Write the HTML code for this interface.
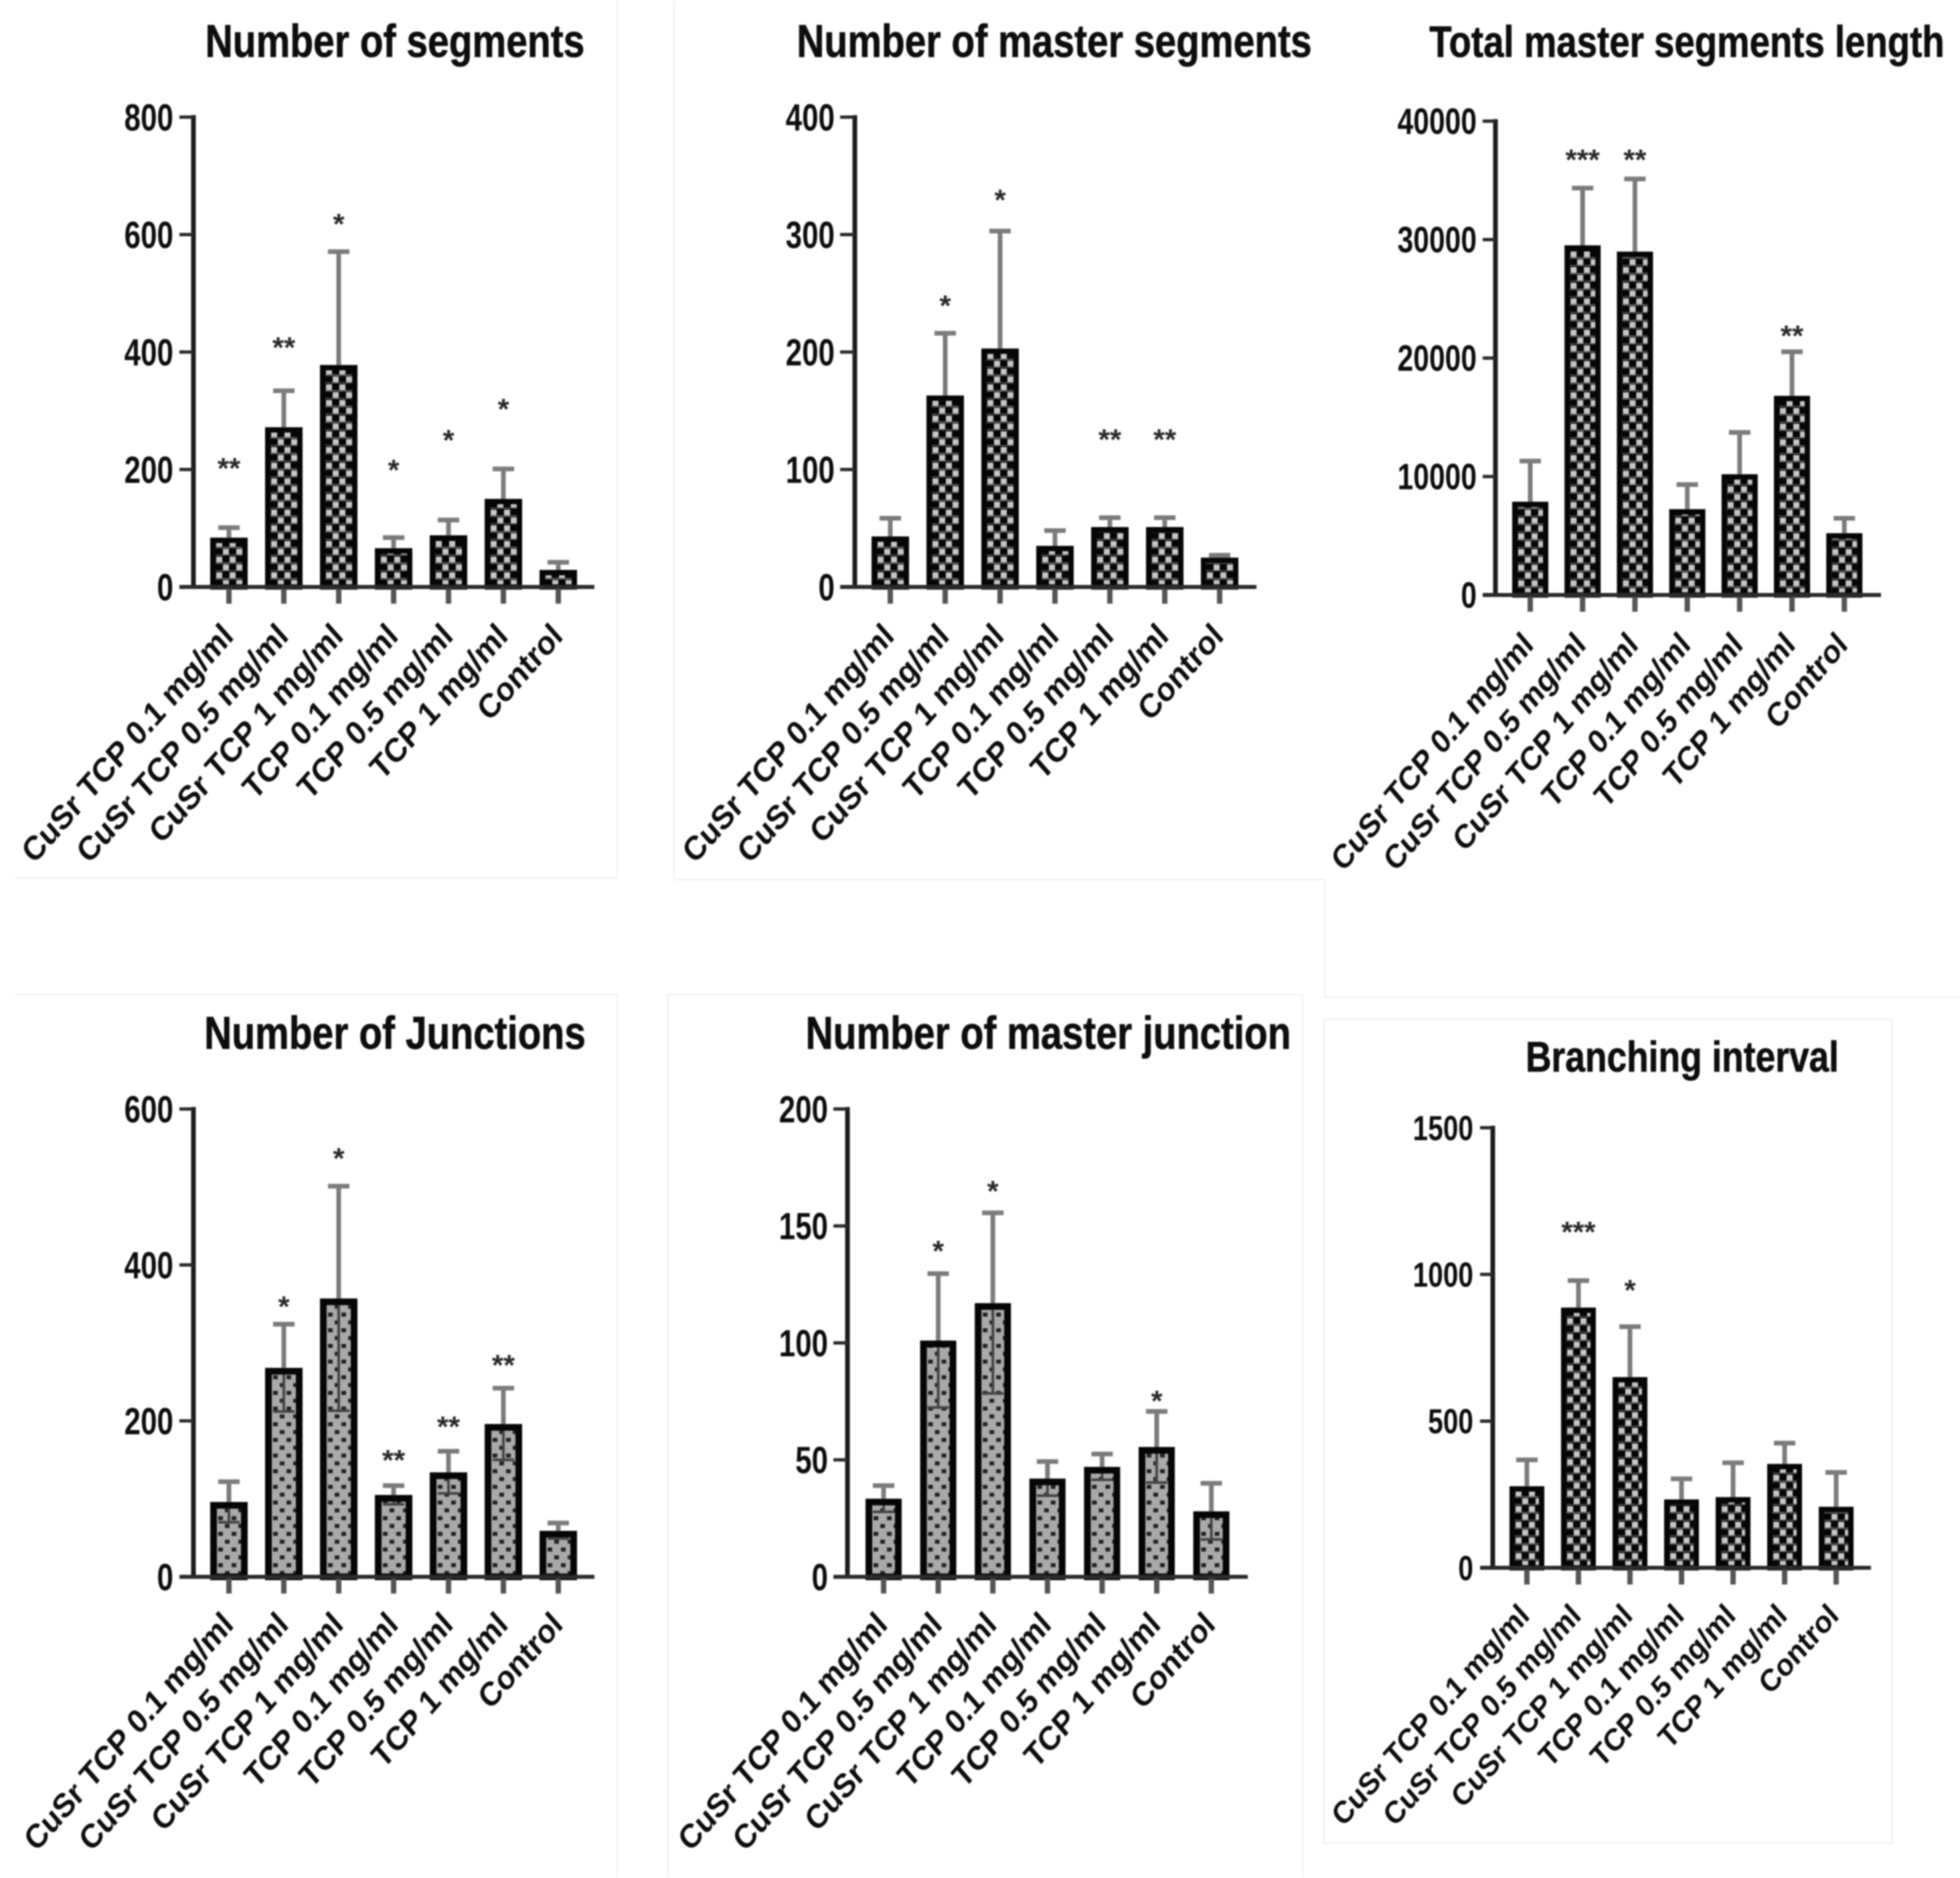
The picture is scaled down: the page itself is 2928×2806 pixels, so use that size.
<!DOCTYPE html>
<html lang="en">
<head>
<meta charset="utf-8">
<title>Angiogenesis parameters bar charts</title>
<style>
html,body{margin:0;padding:0;background:#fff;}
#stage{position:relative;width:2928px;height:2806px;overflow:hidden;background:#fff;}
#charts{position:absolute;left:0;top:0;filter:blur(1.1px);}
text{font-family:"Liberation Sans",sans-serif;font-weight:700;fill:#0e0e0e;}
</style>
</head>
<body>
<div id="stage">
<svg id="charts" width="2928" height="2806" viewBox="0 0 2928 2806" xmlns="http://www.w3.org/2000/svg">
  <defs id="defs"></defs>
  <g stroke="#efefef" stroke-width="2" fill="none">
    <path d="M922 0V1312H22"/>
    <path d="M1007 0V1314H1979V1490H2928"/>
    <path d="M22 1486H922V2806"/>
    <path d="M998 2806V1486H1946V2806"/>
    <path d="M1978 1523H2826V2754H1978Z"/>
  </g>
</svg>
</div>
<script>
const categories = ["CuSr TCP 0.1 mg/ml","CuSr TCP 0.5 mg/ml","CuSr TCP 1 mg/ml","TCP 0.1 mg/ml","TCP 0.5 mg/ml","TCP 1 mg/ml","Control"];

const segmentsTicks = [0,200,400,600,800];
const segmentsMeans = [84,272,378,66,88,150,29];
const segmentsErrTop = [101,334,571,84,114,201,42];
const segmentsStars = ["**","**","*","*","*","*",""];
const segmentsStarAt = [209,415,625,206,257,310,0];

const masterSegmentsTicks = [0,100,200,300,400];
const masterSegmentsMeans = [43,163,203,35,51,51,25];
const masterSegmentsErrTop = [58.5,216,303,48,59,59,27];
const masterSegmentsStars = ["","*","*","","**","**",""];
const masterSegmentsStarAt = [0,243,333,0,129,129,0];

const totalLengthTicks = [0,10000,20000,30000,40000];
const totalLengthMeans = [7874,29517,28986,7246,10193,16812,5217];
const totalLengthErrTop = [11304,34348,35121,9324,13720,20531,6473];
const totalLengthStars = ["","***","**","","","**",""];
const totalLengthStarAt = [0,37101,37101,0,0,22222,0];

const junctionsTicks = [0,200,400,600];
const junctionsMeans = [96,268,357,105,134,196,59];
const junctionsErrTop = [122,324,501,117,161,242,69];
const junctionsStars = ["","*","*","**","**","**",""];
const junctionsStarAt = [0,352,542,155,198,277,0];

const masterJunctionTicks = [0,50,100,150,200];
const masterJunctionMeans = [33.4,101,117,42,47,55.5,28];
const masterJunctionErrTop = [39,129.6,155.6,49.3,52.5,70.7,40];
const masterJunctionStars = ["","*","*","","","*",""];
const masterJunctionStarAt = [0,141,166.6,0,0,77,0];

const branchingTicks = [0,500,1000,1500];
const branchingMeans = [278,887,650,233,241,354,208];
const branchingErrTop = [368,979,822,303,358,425,325];
const branchingStars = ["","***","*","","","",""];
const branchingStarAt = [0,1159,961,0,0,0,0];

const SVGNS = "http://www.w3.org/2000/svg";
const svg = document.getElementById("charts");
const defs = document.getElementById("defs");

function make(tag, attrs, parent){
  const el = document.createElementNS(SVGNS, tag);
  for (const k in attrs) el.setAttribute(k, attrs[k]);
  parent.appendChild(el);
  return el;
}

function addPattern(id, kind, originX, originY){
  const p = make("pattern",{id:id,patternUnits:"userSpaceOnUse",x:originX,y:originY,width:20,height:23.4},defs);
  if (kind === "checker"){
    make("rect",{x:0,y:0,width:20,height:23.4,fill:"#060606"},p);
    make("rect",{x:0,y:10,width:20,height:2.4,fill:"#5c5c5c"},p);
    make("rect",{x:0,y:21.8,width:20,height:1.6,fill:"#5c5c5c"},p);
    make("rect",{x:0,y:1.5,width:9,height:8.5,fill:"#c6c6c6"},p);
    make("rect",{x:10,y:13.2,width:9,height:8.5,fill:"#c6c6c6"},p);
  } else {
    make("rect",{x:0,y:0,width:20,height:23.4,fill:"#a9a9a9"},p);
    make("rect",{x:3,y:3,width:7,height:6,fill:"#222"},p);
    make("rect",{x:13,y:14.7,width:7,height:6,fill:"#222"},p);
  }
}

function drawPanel(cfg){
  const g = make("g",{},svg);
  
  

  const yMax = cfg.ticks[cfg.ticks.length-1];
  const yScale = v => cfg.y0 - (v / yMax) * (cfg.y0 - cfg.yTop);
  const xScale = i => cfg.x0 + i * cfg.step;

  const title = make("text",{"text-anchor":"middle","font-size":cfg.titleSize,stroke:"#0e0e0e","stroke-width":0.7,
    transform:"translate("+cfg.titleX+" "+cfg.titleY+") scale(1 1.2)"},g);
  title.textContent = cfg.title;
  
  

  cfg.means.forEach((m,i)=>{
    const cx = xScale(i);
    const left = cx - cfg.barW/2;
    const top = yScale(m);
    const pid = cfg.key + "-fill-" + i;
    const b = cfg.border;
    addPattern(pid, cfg.fill, left + 9, cfg.y0);

    const bar = make("rect",{x:left+b/2,y:top+b/2,width:cfg.barW-b,height:cfg.y0-top-b/2,fill:"url(#"+pid+")",stroke:"#060606","stroke-width":b},g);
    
    

    const hi = yScale(cfg.errTop[i]);
    const up = make("path",{d:"M"+cx+" "+top+"V"+hi+"M"+(cx-16)+" "+hi+"H"+(cx+16),stroke:"#7c7c7c",fill:"none","stroke-width":7},g);
    
    

    if (cfg.lower){
      const lo = yScale(2*m - cfg.errTop[i]);
      const down = make("path",{d:"M"+cx+" "+(top+b)+"V"+lo+"M"+(cx-16)+" "+lo+"H"+(cx+16),stroke:"#444",fill:"none","stroke-width":4},g);
      
      
    }

    if (cfg.stars[i]){
      const star = make("text",{x:cx,y:yScale(cfg.starAt[i])+21,"text-anchor":"middle","font-size":44,style:"fill:#2a2a2a"},g);
      star.textContent = cfg.stars[i];
      
      
    }

    const tick = make("line",{x1:cx,x2:cx,y1:cfg.y0,y2:cfg.y0+25,stroke:"#555","stroke-width":8},g);
    
    

    const lx = cx + cfg.labelDx, ly = cfg.y0 + cfg.labelDy;
    const label = make("text",{"text-anchor":"end","font-size":cfg.labelSize,
      transform:"translate("+lx+" "+ly+") scale(1 "+cfg.labelScaleY+") rotate(-45)"},g);
    label.textContent = categories[i];
    
    
  });

  const yAxis = make("line",{x1:cfg.axisX,x2:cfg.axisX,y1:cfg.yTop-3,y2:cfg.y0+3,stroke:"#1c1c1c","stroke-width":7},g);
  
  

  const xAxis = make("line",{x1:cfg.tickLeft,x2:cfg.xEnd,y1:cfg.y0,y2:cfg.y0,stroke:"#2c2c2c","stroke-width":6},g);
  
  

  cfg.ticks.forEach(t=>{
    const yy = yScale(t);
    const tk = make("line",{x1:cfg.tickLeft,x2:cfg.axisX,y1:yy,y2:yy,stroke:"#2c2c2c","stroke-width":5},g);
    
    
    const lb = make("text",{"text-anchor":"end","font-size":cfg.tickSize,
      transform:"translate("+cfg.tickText+" "+(yy+cfg.tickSize*0.45)+") scale(1 1.28)"},g);
    lb.textContent = t;
    
    
  });
}

drawPanel({key:"segments",title:"Number of segments",titleX:590,titleY:85,titleSize:57,
  ticks:segmentsTicks,means:segmentsMeans,errTop:segmentsErrTop,stars:segmentsStars,starAt:segmentsStarAt,
  fill:"checker",border:8,lower:false,axisX:289,tickLeft:268,tickText:259,xEnd:888,yTop:175,y0:877,x0:342,step:82,barW:56,
  tickSize:44,labelSize:44.5,labelScaleY:1.13,labelDx:9,labelDy:76});

drawPanel({key:"master-segments",title:"Number of master segments",titleX:1575,titleY:85,titleSize:57,
  ticks:masterSegmentsTicks,means:masterSegmentsMeans,errTop:masterSegmentsErrTop,stars:masterSegmentsStars,starAt:masterSegmentsStarAt,
  fill:"checker",border:8,lower:false,axisX:1277,tickLeft:1255,tickText:1247,xEnd:1877,yTop:175,y0:877,x0:1330,step:82,barW:56,
  tickSize:44,labelSize:44.5,labelScaleY:1.13,labelDx:8,labelDy:76});

drawPanel({key:"total-master-length",title:"Total master segments length",titleX:2520,titleY:85,titleSize:54.6,
  ticks:totalLengthTicks,means:totalLengthMeans,errTop:totalLengthErrTop,stars:totalLengthStars,starAt:totalLengthStarAt,
  fill:"checker",border:8,lower:false,axisX:2234,tickLeft:2215,tickText:2206,xEnd:2810,yTop:181,y0:889,x0:2286,step:78.2,barW:54,
  tickSize:42.6,labelSize:42.5,labelScaleY:1.18,labelDx:7,labelDy:77});

drawPanel({key:"junctions",title:"Number of Junctions",titleX:590,titleY:1567,titleSize:57,
  ticks:junctionsTicks,means:junctionsMeans,errTop:junctionsErrTop,stars:junctionsStars,starAt:junctionsStarAt,
  fill:"dots",border:10,lower:true,axisX:289,tickLeft:268,tickText:259,xEnd:888,yTop:1657,y0:2356,x0:342,step:82,barW:56,
  tickSize:44,labelSize:44,labelScaleY:1.14,labelDx:9,labelDy:74});

drawPanel({key:"master-junction",title:"Number of master junction",titleX:1566,titleY:1567,titleSize:57,
  ticks:masterJunctionTicks,means:masterJunctionMeans,errTop:masterJunctionErrTop,stars:masterJunctionStars,starAt:masterJunctionStarAt,
  fill:"dots",border:10,lower:true,axisX:1266,tickLeft:1245,tickText:1237,xEnd:1864,yTop:1657,y0:2356,x0:1320,step:81.6,barW:54,
  tickSize:44,labelSize:44,labelScaleY:1.14,labelDx:8,labelDy:74});

drawPanel({key:"branching-interval",title:"Branching interval",titleX:2513,titleY:1601,titleSize:53.3,
  ticks:branchingTicks,means:branchingMeans,errTop:branchingErrTop,stars:branchingStars,starAt:branchingStarAt,
  fill:"checker",border:8,lower:false,axisX:2230,tickLeft:2211,tickText:2201,xEnd:2795,yTop:1685,y0:2342.5,x0:2281,step:77,barW:52,
  tickSize:40.6,labelSize:41.6,labelScaleY:1.12,labelDx:6,labelDy:74});
</script>
</body>
</html>
